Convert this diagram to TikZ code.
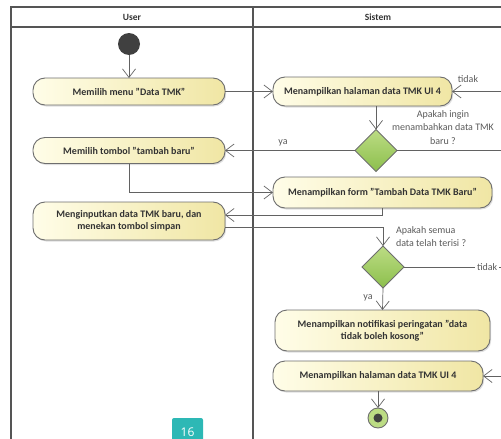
\documentclass[tikz,border=0pt]{standalone}
\usepackage{fontspec}
\setmainfont{Carlito}
\newfontfamily\pagefont{Open Sans}
\usetikzlibrary{arrows.meta,shapes.geometric,shadows}

\definecolor{lanegray}{HTML}{555555}
\definecolor{flowgray}{HTML}{626262}
\definecolor{actlight}{HTML}{FFFDE8}
\definecolor{actdark}{HTML}{F0E6A4}
\definecolor{actline}{HTML}{6E6E6E}
\definecolor{declight}{HTML}{BCDC84}
\definecolor{decdark}{HTML}{8CBF4C}
\definecolor{labelgray}{HTML}{5A5A5A}
\definecolor{pageteal}{HTML}{2DB8B5}

\begin{document}
\begin{tikzpicture}[x=1pt,y=-1pt,
  every node/.style={inner sep=0pt, outer sep=0pt, text=black!80},
  action/.style={draw=actline, line width=0.9pt, rounded corners=12pt,
    left color=actlight, right color=actdark, align=center,
    font=\fontsize{10}{12.5}\selectfont\bfseries,
    drop shadow={opacity=0.25, shadow xshift=1.2pt, shadow yshift=-1.5pt}},
  decision/.style={diamond, aspect=1, minimum size=42pt, draw=actline, line width=0.8pt,
    top color=declight, bottom color=decdark},
  guard/.style={text=labelgray, font=\fontsize{10}{13.5}\selectfont},
  flow/.style={draw=flowgray, line width=0.7pt, -{Straight Barb[length=8.5pt,width=13pt]}},
  lane/.style={draw=lanegray, line width=1.2pt}]
\useasboundingbox (0,0) rectangle (501,439);
\clip (0,0) rectangle (501,439);

\draw[lane] (11,445) -- (11,7) -- (520,7);
\draw[lane] (11,27) -- (520,27);
\draw[lane] (253,7) -- (253,445);
\node[font=\fontsize{9.5}{9.5}\selectfont\bfseries] (userhead) at (132,17) {User};
\node[font=\fontsize{9.5}{9.5}\selectfont\bfseries] (sistemhead) at (378,17) {Sistem};

\node[circle, fill=black!75, minimum size=22pt] (start) at (129,44) {};
\node[action, minimum width=192pt, minimum height=27pt] (menu) at (129,91.5) {Memilih menu "Data TMK"};
\node[action, minimum width=179pt, minimum height=29pt] (halaman) at (362.5,91.5) {Menampilkan halaman data TMK UI 4};
\node[decision] (tanya) at (376,150.5) {};
\node[action, minimum width=192pt, minimum height=26pt] (tombol) at (129,150.5) {Memilih tombol "tambah baru"};
\node[action, minimum width=219pt, minimum height=31pt] (form) at (382.5,192.5) {Menampilkan form "Tambah Data TMK Baru"};
\node[action, minimum width=192pt, minimum height=38pt] (input) at (129,221) {Menginputkan data TMK baru, dan\\menekan tombol simpan};
\node[decision] (cek) at (383,267) {};
\node[action, minimum width=215pt, minimum height=41pt] (notif) at (382.5,330.5) {Menampilkan notifikasi peringatan "data\\tidak boleh kosong"};
\node[action, minimum width=210pt, minimum height=30pt] (tampil) at (378,376) {Menampilkan halaman data TMK UI 4};
\node[circle, draw=actline, line width=0.9pt, fill=declight, minimum size=20pt] (finish) at (378,418) {};
\node[circle, fill=black!75, minimum size=9pt] (finishdot) at (finish) {};

\node[guard] (tidaklabel) at (468,79) {tidak};
\node[guard, align=center] (tanyalabel) at (443,127.5) {Apakah ingin\\menambahkan data TMK\\baru ?};
\node[guard] (yalabel) at (283,143) {ya};
\node[guard, align=left, anchor=west] (ceklabel) at (396,236.5) {Apakah semua\\data telah terisi ?};
\node[guard] (yalabel2) at (368,298) {ya};

\coordinate (kanan1) at (508,150.5);
\coordinate (kanan2) at (508,267);

\draw[flow] (start) -- (menu);
\draw[flow] (menu) -- (halaman);
\draw[flow] (halaman.south -| tanya.north) -- (tanya.north);
\draw[flow] (tanya.west) -- (tombol.east);
\draw[flow] (tanya.east) -- (kanan1) |- (halaman.east);
\draw[flow] (tombol.south) |- (form.west);
\draw[flow] (form.south) |- ([yshift=6pt]input.east);
\draw[flow] ([yshift=-6pt]input.east) -| (cek.north);
\draw[flow] (cek.east) -- node[guard, fill=white, inner xsep=2pt, pos=0.8] {tidak} (kanan2) |- (tampil.east);
\draw[flow] (cek.south) -- (notif.north);
\draw[flow] (tampil.south) -- (finish.north);

\node[fill=pageteal, text=white, rounded corners=2pt, minimum width=31pt, minimum height=28pt,
  font=\pagefont\fontsize{12}{12}\selectfont] (halamannomor) at (187.5,432) {16};
\end{tikzpicture}
\end{document}
